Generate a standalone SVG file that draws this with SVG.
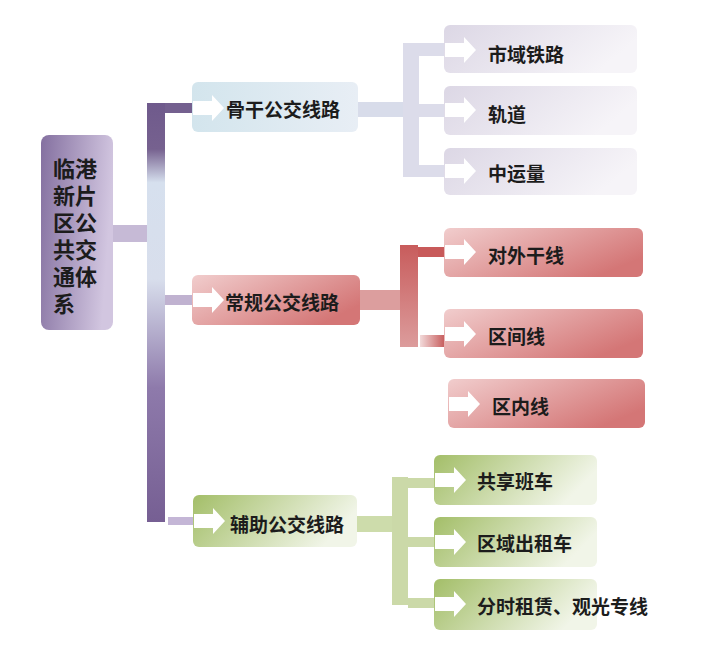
<svg xmlns="http://www.w3.org/2000/svg" xmlns:xlink="http://www.w3.org/1999/xlink" width="704" height="649" viewBox="0 0 704 649">
<defs>
<style>
text{font-family:"Noto Sans CJK SC","Liberation Sans",sans-serif;font-weight:700;fill:#1c1c1c;dominant-baseline:central}
.t1{font-size:19px}
.t0{font-size:22px}
.arr{fill:#ffffff}
</style>
<linearGradient id="gRoot" x1="0" y1="0" x2="1" y2="0.2"><stop offset="0" stop-color="#8470a0"/><stop offset="1" stop-color="#d2c6e0"/></linearGradient>
<linearGradient id="gTrunk" x1="0" y1="0" x2="0" y2="1">
<stop offset="0" stop-color="#6f5a8c"/><stop offset="0.11" stop-color="#76618f"/><stop offset="0.19" stop-color="#d6e0ee"/><stop offset="0.42" stop-color="#d8deec"/><stop offset="0.68" stop-color="#8e7aab"/><stop offset="1" stop-color="#765f93"/></linearGradient>
<linearGradient id="gBlue" x1="0" y1="0" x2="1" y2="0"><stop offset="0" stop-color="#d3e5ed"/><stop offset="1" stop-color="#e8eef5"/></linearGradient>
<linearGradient id="gLav" x1="0" y1="0" x2="1" y2="0.3"><stop offset="0" stop-color="#dcd7e5"/><stop offset="1" stop-color="#f6f4f8"/></linearGradient>
<linearGradient id="gRed" x1="0" y1="0" x2="1" y2="0.6"><stop offset="0" stop-color="#f1cdcd"/><stop offset="1" stop-color="#d47676"/></linearGradient>
<linearGradient id="gGreen" x1="0" y1="0" x2="1" y2="0.3"><stop offset="0" stop-color="#a3be68"/><stop offset="1" stop-color="#f1f5e8"/></linearGradient>
<linearGradient id="gRedV" x1="0" y1="0" x2="0" y2="1"><stop offset="0" stop-color="#c85c5c"/><stop offset="1" stop-color="#dc9c9c"/></linearGradient>
<linearGradient id="gRedH" x1="0" y1="0" x2="1" y2="0"><stop offset="0" stop-color="#f2dada"/><stop offset="1" stop-color="#c65a5a"/></linearGradient>
<path id="arr" class="arr" d="M0,-7 H19 V-13 L31,0 L19,13 V7 H0 Z"/>
</defs>
<rect width="704" height="649" fill="#ffffff"/>

<g id="connectors">
<rect x="147" y="103" width="18" height="419" fill="url(#gTrunk)"/>
<rect x="165" y="103" width="28" height="10" fill="#74608f"/>
<rect x="113" y="225" width="34" height="17" fill="#c6bad6"/>
<rect x="165" y="295" width="28" height="10" fill="#c0b2d0"/>
<rect x="168" y="517" width="26" height="8" fill="#c4b6d6"/>
<rect x="357" y="102" width="47" height="15" fill="#d8dcea"/>
<rect x="403" y="43" width="16" height="134" fill="#dcdcea"/>
<rect x="419" y="43" width="26" height="13" fill="#dcdcea"/>
<rect x="419" y="104" width="26" height="13" fill="#dcdcea"/>
<rect x="419" y="165" width="26" height="12" fill="#dcdcea"/>
<rect x="359" y="290" width="43" height="20" fill="#dc9e9e"/>
<rect x="400" y="245" width="18" height="102" fill="url(#gRedV)"/>
<rect x="418" y="247" width="27" height="10" fill="#c85a5a"/>
<rect x="420" y="335" width="25" height="12" fill="url(#gRedH)"/>
<rect x="357" y="516" width="40" height="16" fill="#cddcab"/>
<rect x="392" y="477" width="16" height="128" fill="#cbd9a8"/>
<rect x="408" y="478" width="27" height="10" fill="#cbd9a8"/>
<rect x="408" y="537" width="27" height="10" fill="#cbd9a8"/>
<rect x="408" y="598" width="27" height="10" fill="#cbd9a8"/>
</g>

<g id="root">
<rect x="41" y="135" width="72" height="195" rx="8" fill="url(#gRoot)"/>
<text class="t0" x="53" y="167">临港</text>
<text class="t0" x="53" y="194">新片</text>
<text class="t0" x="53" y="221">区公</text>
<text class="t0" x="53" y="248">共交</text>
<text class="t0" x="53" y="275">通体</text>
<text class="t0" x="53" y="302">系</text>
</g>

<g id="n-gugan">
<rect x="192" y="82" width="166" height="50" rx="6" fill="url(#gBlue)"/>
<use xlink:href="#arr" x="193" y="108"/>
<text class="t1" x="226" y="108">骨干公交线路</text>
</g>
<g id="n-changgui">
<rect x="192" y="275" width="168" height="50" rx="6" fill="url(#gRed)"/>
<use xlink:href="#arr" x="193" y="300"/>
<text class="t1" x="225" y="301">常规公交线路</text>
</g>
<g id="n-fuzhu">
<rect x="193" y="495" width="164" height="52" rx="6" fill="url(#gGreen)"/>
<use xlink:href="#arr" x="194" y="521"/>
<text class="t1" x="230" y="523">辅助公交线路</text>
</g>

<g id="n-shiyu">
<rect x="444" y="25" width="193" height="48" rx="6" fill="url(#gLav)"/>
<use xlink:href="#arr" x="445" y="50"/>
<text class="t1" x="488" y="53">市域铁路</text>
</g>
<g id="n-guidao">
<rect x="444" y="86" width="193" height="49" rx="6" fill="url(#gLav)"/>
<use xlink:href="#arr" x="445" y="110"/>
<text class="t1" x="488" y="113">轨道</text>
</g>
<g id="n-zhongyun">
<rect x="444" y="148" width="193" height="47" rx="6" fill="url(#gLav)"/>
<use xlink:href="#arr" x="445" y="171"/>
<text class="t1" x="488" y="172">中运量</text>
</g>

<g id="n-duiwai">
<rect x="444" y="228" width="199" height="49" rx="6" fill="url(#gRed)"/>
<use xlink:href="#arr" x="445" y="252"/>
<text class="t1" x="488" y="254">对外干线</text>
</g>
<g id="n-qujian">
<rect x="444" y="309" width="199" height="49" rx="6" fill="url(#gRed)"/>
<use xlink:href="#arr" x="445" y="334"/>
<text class="t1" x="488" y="335">区间线</text>
</g>
<g id="n-qunei">
<rect x="448" y="379" width="197" height="49" rx="6" fill="url(#gRed)"/>
<use xlink:href="#arr" x="449" y="404"/>
<text class="t1" x="492" y="405">区内线</text>
</g>

<g id="n-gongxiang">
<rect x="434" y="455" width="163" height="50" rx="6" fill="url(#gGreen)"/>
<use xlink:href="#arr" x="435" y="480"/>
<text class="t1" x="477" y="480">共享班车</text>
</g>
<g id="n-quyu">
<rect x="434" y="517" width="163" height="50" rx="6" fill="url(#gGreen)"/>
<use xlink:href="#arr" x="435" y="542"/>
<text class="t1" x="477" y="542">区域出租车</text>
</g>
<g id="n-fenshi">
<rect x="434" y="579" width="163" height="51" rx="6" fill="url(#gGreen)"/>
<use xlink:href="#arr" x="435" y="604"/>
<text class="t1" x="477" y="605">分时租赁、观光专线</text>
</g>
</svg>
